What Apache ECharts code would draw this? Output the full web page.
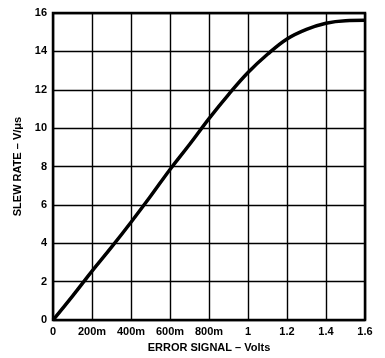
<!DOCTYPE html>
<html><head><meta charset="utf-8">
<script src="https://cdn.jsdelivr.net/npm/echarts@6/dist/echarts.min.js"></script>
<style>html,body{margin:0;padding:0;background:#fff}#c{width:385px;height:358px}</style>
</head><body><div id="c"></div>
<script>
const xValues = [0, 0.1, 0.2, 0.3, 0.4, 0.5, 0.6, 0.7, 0.8, 0.9, 1.0, 1.1, 1.2, 1.3, 1.4, 1.5, 1.6];
const slewRate = [0, 1.25, 2.55, 3.8, 5.1, 6.45, 7.85, 9.15, 10.5, 11.75, 12.9, 13.85, 14.65, 15.15, 15.47, 15.6, 15.62];
const xTicks = ['0', '200m', '400m', '600m', '800m', '1', '1.2', '1.4', '1.6'];
const yTicks = ['0', '2', '4', '6', '8', '10', '12', '14', '16'];

const chart = echarts.init(document.getElementById('c'), null, {renderer: 'canvas'});
const font = 'Liberation Sans, Arial, sans-serif';
chart.setOption({
  animation: false,
  grid: {left: 53, right: 20, top: 13, bottom: 34, show: true, borderColor: '#000', borderWidth: 2.5, backgroundColor: 'transparent'},
  xAxis: {
    type: 'value', min: 0, max: 1.6, interval: 0.2,
    name: 'ERROR SIGNAL – Volts', nameLocation: 'middle', nameGap: 20,
    nameTextStyle: {color: '#000', fontWeight: 'bold', fontSize: 11, fontFamily: font},
    axisLine: {show: false}, axisTick: {show: false},
    axisLabel: {color: '#000', fontWeight: 'bold', fontSize: 11, fontFamily: font, margin: 6,
      formatter: v => xTicks[Math.round(v / 0.2)]},
    splitLine: {show: true, lineStyle: {color: '#000', width: 1.4}}
  },
  yAxis: {
    type: 'value', min: 0, max: 16, interval: 2,
    name: 'SLEW RATE – V/μs', nameLocation: 'middle', nameGap: 22,
    nameTextStyle: {color: '#000', fontWeight: 'bold', fontSize: 11, fontFamily: font},
    axisLine: {show: false}, axisTick: {show: false},
    axisLabel: {color: '#000', fontWeight: 'bold', fontSize: 11, fontFamily: font, margin: 6,
      formatter: v => yTicks[Math.round(v / 2)]},
    splitLine: {show: true, lineStyle: {color: '#000', width: 1.4}}
  },
  series: [{
    type: 'line', smooth: 0.4, showSymbol: false,
    data: xValues.map((x, i) => [x, slewRate[i]]),
    lineStyle: {color: '#000', width: 3.5}
  }]
});
</script></body></html>
